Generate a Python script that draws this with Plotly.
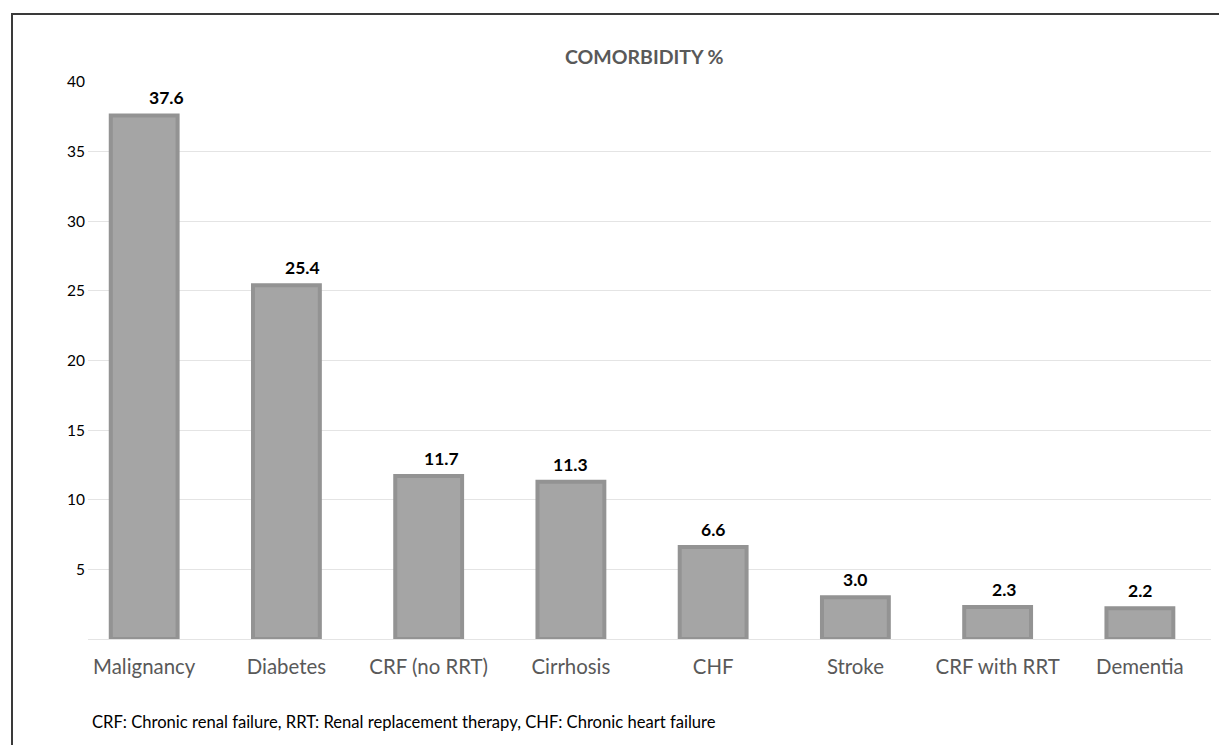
import plotly.graph_objects as go

# Comorbidity prevalence (%)
categories = ["Malignancy", "Diabetes", "CRF (no RRT)", "Cirrhosis", "CHF",
              "Stroke", "CRF with RRT", "Dementia"]
values = [37.6, 25.4, 11.7, 11.3, 6.6, 3.0, 2.3, 2.2]
y_ticks = [5, 10, 15, 20, 25, 30, 35, 40]

# small horizontal nudges for the value labels (pixels)
label_dx = [22, 16, 13, 0, 0, 0, 6, 0]

W, H = 1219, 745
L, R, T, B = 88, 8, 82, 106
FONT = "Lato"


def px(x):
    return (x - L) / (W - L - R)


def py(y):
    return (H - B - y) / (H - T - B)


fig = go.Figure()
fig.add_trace(go.Bar(
    x=list(range(len(categories))),
    y=values,
    width=0.47,
    marker=dict(color="#a5a5a5", line=dict(color="#939393", width=4)),
    hoverinfo="x+y",
))

annotations = []
for i, (v, dx) in enumerate(zip(values, label_dx)):
    annotations.append(dict(
        x=i, y=v, text=f"<b>{v:.1f}</b>", showarrow=False,
        xref="x", yref="y", yanchor="bottom", yshift=5, xshift=dx,
        font=dict(family=FONT, size=17.5, color="#000000"),
    ))

annotations.append(dict(
    x=px(644), y=py(57), xref="paper", yref="paper", yanchor="middle",
    text="<b>COMORBIDITY %</b>", showarrow=False,
    font=dict(family=FONT, size=19.5, color="#595959"),
))
annotations.append(dict(
    x=px(90), y=py(722), xref="paper", yref="paper", xanchor="left",
    yanchor="middle",
    text="CRF: Chronic renal failure, RRT: Renal replacement therapy, CHF: Chronic heart failure",
    showarrow=False,
    font=dict(family=FONT, size=16.6, color="#000000"),
))

shapes = [
    dict(type="line", xref="paper", yref="paper",
         x0=px(11), x1=px(1219), y0=py(14), y1=py(14),
         line=dict(color="#3a3a3a", width=2)),
    dict(type="line", xref="paper", yref="paper",
         x0=px(12), x1=px(12), y0=py(13), y1=py(745),
         line=dict(color="#3a3a3a", width=2)),
]

fig.update_layout(
    width=W, height=H,
    margin=dict(l=L, r=R, t=T, b=B),
    paper_bgcolor="white", plot_bgcolor="white",
    showlegend=False,
    annotations=annotations,
    shapes=shapes,
    bargap=0.5,
)
fig.update_xaxes(
    range=[-0.395, 7.5],
    tickmode="array", tickvals=list(range(len(categories))), ticktext=categories,
    tickfont=dict(family=FONT, size=20.4, color="#595959"),
    showgrid=False, showline=False, ticks="", ticklabelstandoff=14,
)
fig.update_yaxes(
    range=[0, 40],
    tickmode="array", tickvals=y_ticks,
    tickfont=dict(family=FONT, size=15.5, color="#000000"),
    showgrid=True, gridcolor="#e4e4e4", gridwidth=1,
    zeroline=True, zerolinecolor="#e4e4e4", zerolinewidth=1,
    showline=False, ticks="", ticklabelstandoff=2,
)

fig.write_html("out.html")
